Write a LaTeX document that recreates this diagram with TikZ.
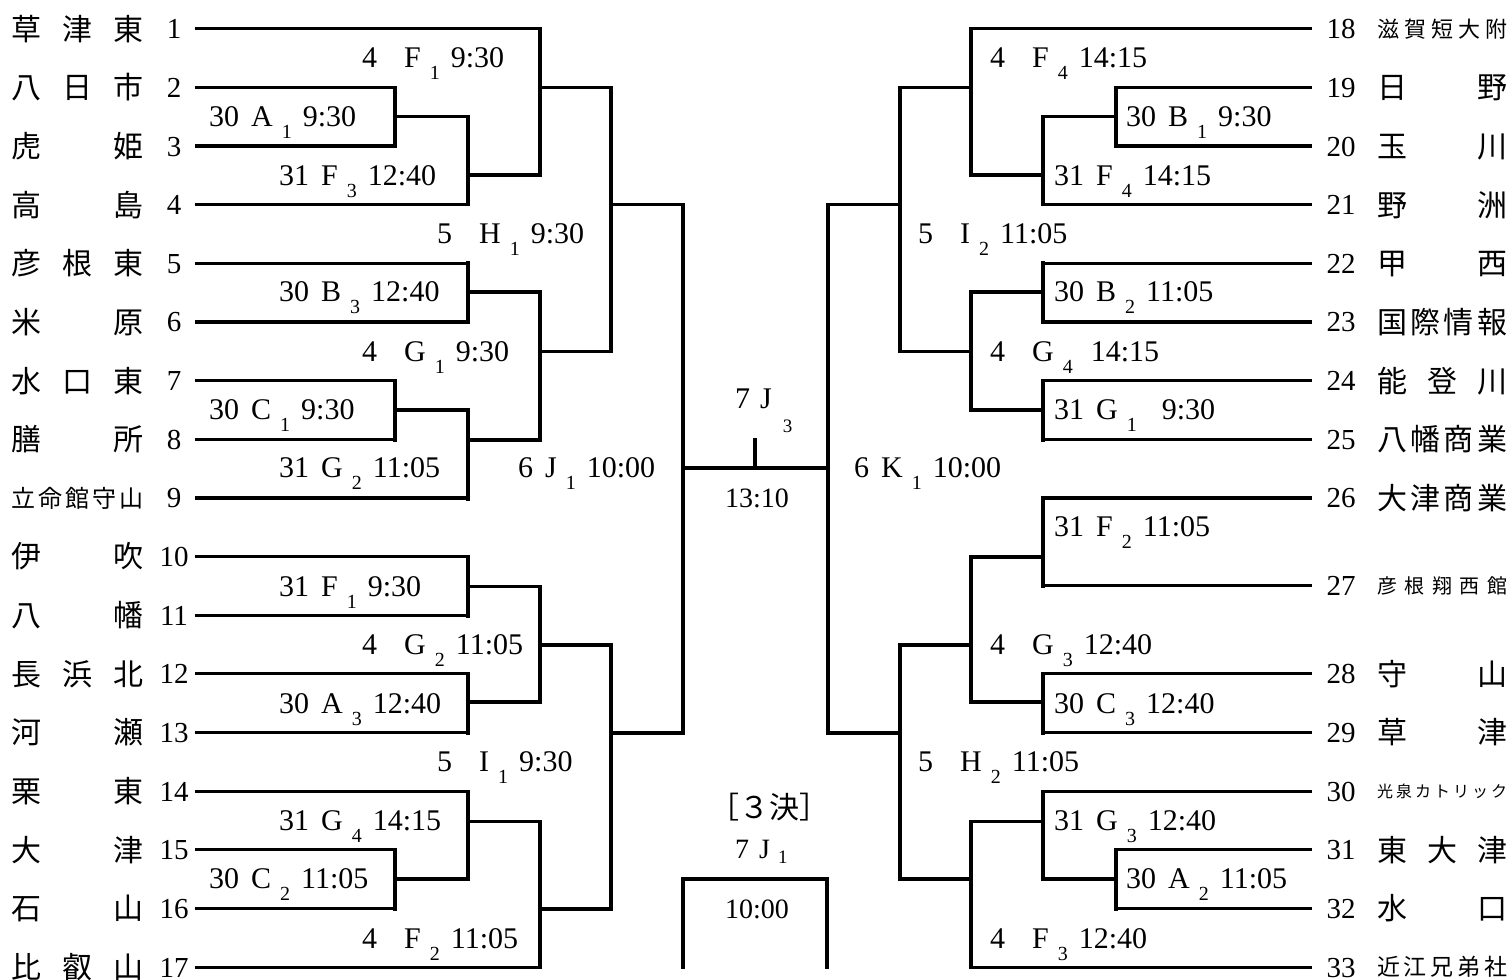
\documentclass[tikz,border=0pt]{standalone}
\usepackage{fontspec}
\setmainfont{Liberation Serif}
\newfontfamily\jp{Noto Sans CJK JP}
\usepackage{tikz}
\newcommand{\sbt}[1]{\raisebox{-12pt}{\fontsize{20}{20}\selectfont #1}}
\newcommand{\mt}[5][30pt]{\makebox[#1][l]{#2}\hspace{12pt}#3\hspace{9pt}\sbt{#4}\hspace{11pt}#5}

\begin{document}
\begin{tikzpicture}[x=1pt, y=-1pt,
    bk/.style={line width=3.2pt, line cap=rect},
    nm/.style={inner sep=0pt, anchor=base west, font=\jp},
    no/.style={inner sep=0pt, anchor=base, font=\fontsize{29}{29}\selectfont},
    lb/.style={inner sep=0pt, anchor=base west, font=\fontsize{30}{30}\selectfont}]

    \useasboundingbox (0,0) rectangle (1511,979);

    % left half
    \foreach \i/\nme/\sz/\xe in {1/{草\hfill 津\hfill 東}/30/540, 2/{八\hfill 日\hfill 市}/30/395,
        3/{虎\hfill 姫}/30/395, 4/{高\hfill 島}/30/468, 5/{彦\hfill 根\hfill 東}/30/468,
        6/{米\hfill 原}/30/468, 7/{水\hfill 口\hfill 東}/30/395, 8/{膳\hfill 所}/30/395,
        9/{立\hfill 命\hfill 館\hfill 守\hfill 山}/24/468, 10/{伊\hfill 吹}/30/468,
        11/{八\hfill 幡}/30/468, 12/{長\hfill 浜\hfill 北}/30/468, 13/{河\hfill 瀬}/30/468,
        14/{栗\hfill 東}/30/468, 15/{大\hfill 津}/30/395, 16/{石\hfill 山}/30/395,
        17/{比\hfill 叡\hfill 山}/30/540} {
        \pgfmathsetmacro\yy{28.7+58.65*(\i-1)}
        \node[no] (n\i) at (174,\yy+10) {\i};
        \node[nm] (t\i) at (11,\yy+0.38*\sz) {\fontsize{\sz}{\sz}\selectfont\makebox[132pt][s]{\nme}};
        \coordinate (s\i) at (197,\yy);
        \draw[bk] (s\i) -- (\xe,\yy);
    }

    % right half
    \foreach \i/\r/\nme/\sz/\xs in {18/1/{滋\hfill 賀\hfill 短\hfill 大\hfill 附}/22/971,
        19/2/{日\hfill 野}/30/1116, 20/3/{玉\hfill 川}/30/1116, 21/4/{野\hfill 洲}/30/1043,
        22/5/{甲\hfill 西}/30/1043, 23/6/{国\hfill 際\hfill 情\hfill 報}/30/1043,
        24/7/{能\hfill 登\hfill 川}/30/1043, 25/8/{八\hfill 幡\hfill 商\hfill 業}/30/1043,
        26/9/{大\hfill 津\hfill 商\hfill 業}/30/1043, 27/10.5/{彦\hfill 根\hfill 翔\hfill 西\hfill 館}/20/1043,
        28/12/{守\hfill 山}/30/1043, 29/13/{草\hfill 津}/30/1043,
        30/14/{光\hfill 泉\hfill カ\hfill ト\hfill リ\hfill ッ\hfill ク}/16/1043,
        31/15/{東\hfill 大\hfill 津}/30/1116, 32/16/{水\hfill 口}/30/1116,
        33/17/{近\hfill 江\hfill 兄\hfill 弟\hfill 社}/23/971} {
        \pgfmathsetmacro\yy{28.7+58.65*(\r-1)}
        \node[no] (n\i) at (1341,\yy+10) {\i};
        \node[nm] (t\i) at (1377,\yy+0.38*\sz) {\fontsize{\sz}{\sz}\selectfont\makebox[130pt][s]{\nme}};
        \coordinate (e\i) at (1310,\yy);
        \draw[bk] (\xs,\yy) -- (e\i);
    }

    % brackets: x / top / bottom / stub y / stub end
    \foreach \x/\ya/\yb/\ym/\xn in {395/87.7/146/116.7/468, 468/116.7/204.3/175/540,
        540/28.7/175/87.7/611, 468/263/322/292/540, 395/381/440/410/468,
        468/410/499/440/540, 540/292/440/351.7/611, 611/87.7/351.7/204.3/683,
        468/557/616/586.7/540, 468/674/733/702/540, 540/586.7/702/645/611,
        395/850.7/909/879/468, 468/791.7/879/821.7/540, 540/821.7/967/909/611,
        611/645/909/733/683, 683/204.3/733/468/755,
        1116/87.7/146/116.7/1043, 1043/116.7/204.3/175/971, 971/28.7/175/87.7/900,
        1043/263/322/292/971, 1043/381/440/410/971, 971/292/410/351.7/900,
        900/87.7/351.7/204.3/828, 1043/499/586.7/557/971, 1043/674/733/702/971,
        971/557/702/645/900, 1116/850.7/909/879/1043, 1043/791.7/879/821.7/971,
        971/821.7/967/879/900, 900/645/879/733/828, 828/204.3/733/468/755}
        \draw[bk] (\x,\ya) -- (\x,\yb) (\x,\ym) -- (\xn,\ym);

    \draw[bk] (755,440) -- (755,468);
    \draw[bk] (683,967) |- (827,879) -- (827,967);

    % match labels
    \foreach \x/\y/\t [count=\k] in {362/59/{\mt{4}{F}{1}{9:30}}, 209/117/{\mt{30}{A}{1}{9:30}},
        279/176/{\mt{31}{F}{3}{12:40}}, 437/234/{\mt{5}{H}{1}{9:30}},
        279/292/{\mt{30}{B}{3}{12:40}}, 362/352/{\mt{4}{G}{1}{9:30}},
        209/410/{\mt{30}{C}{1}{9:30}}, 279/468/{\mt{31}{G}{2}{11:05}},
        518/468/{\mt[15pt]{6}{J}{1}{10:00}}, 279/587/{\mt{31}{F}{1}{9:30}},
        362/645/{\mt{4}{G}{2}{11:05}}, 279/704/{\mt{30}{A}{3}{12:40}},
        437/762/{\mt{5}{I}{1}{9:30}}, 279/821/{\mt{31}{G}{4}{14:15}},
        209/879/{\mt{30}{C}{2}{11:05}}, 362/939/{\mt{4}{F}{2}{11:05}},
        990/59/{\mt{4}{F}{4}{14:15}}, 1126/117/{\mt{30}{B}{1}{9:30}},
        1054/176/{\mt{31}{F}{4}{14:15}}, 918/234/{\mt{5}{I}{2}{11:05}},
        1054/292/{\mt{30}{B}{2}{11:05}}, 990/352/{\mt{4}{G}{4}{\hspace{7pt}14:15}},
        1054/410/{\mt{31}{G}{1}{\hspace{14pt}9:30}}, 854/468/{\mt[15pt]{6}{K}{1}{10:00}},
        1054/527/{\mt{31}{F}{2}{11:05}}, 990/645/{\mt{4}{G}{3}{12:40}},
        1054/704/{\mt{30}{C}{3}{12:40}}, 918/762/{\mt{5}{H}{2}{11:05}},
        1054/821/{\mt{31}{G}{3}{12:40}}, 1126/879/{\mt{30}{A}{2}{11:05}},
        990/939/{\mt{4}{F}{3}{12:40}}}
        \node[lb] (m\k) at (\x,\y+9) {\t};

    % final and third place
    \node[lb] (fin) at (735,408) {7\hspace{10pt}J\hspace{11pt}\raisebox{-24pt}{\fontsize{19}{19}\selectfont 3}};
    \node[no, font=\fontsize{28}{28}\selectfont] (fintime) at (757,507) {13:10};
    \node[inner sep=0pt, font=\jp\fontsize{30}{30}\selectfont] (third) at (769,807) {［３決］};
    \node[lb, font=\fontsize{28}{28}\selectfont] (thirdm) at (735,858) {7\hspace{10pt}J\hspace{8pt}\raisebox{-5pt}{\fontsize{19}{19}\selectfont 1}};
    \node[no, font=\fontsize{28}{28}\selectfont] (thirdtime) at (757,918) {10:00};
\end{tikzpicture}
\end{document}
